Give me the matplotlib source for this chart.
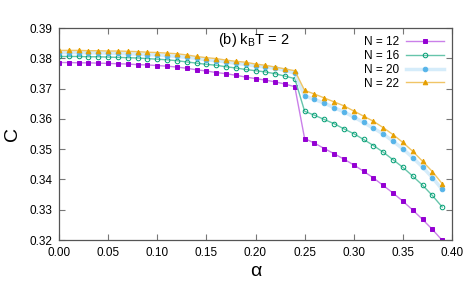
import numpy as np
import matplotlib
matplotlib.use("Agg")
import matplotlib.pyplot as plt
from matplotlib.colors import to_rgb

plt.rcParams["font.family"] = ["Liberation Sans", "DejaVu Sans"]

alpha = np.round(np.arange(0, 0.40, 0.01), 2)

c_n12 = [0.3786, 0.3786, 0.3785, 0.3785, 0.3784, 0.3783, 0.3782, 0.3781, 0.3779, 0.3778,
         0.3776, 0.3774, 0.3771, 0.3767, 0.3762, 0.3758, 0.3753, 0.3749, 0.3744, 0.3738,
         0.3733, 0.3728, 0.3722, 0.3715, 0.3706,
         0.3535, 0.3520, 0.3502, 0.3485, 0.3467, 0.3448, 0.3427, 0.3405, 0.3380, 0.3355,
         0.3328, 0.3299, 0.3268, 0.3235, 0.3199]
c_n16 = [0.3806, 0.3806, 0.3806, 0.3805, 0.3805, 0.3804, 0.3803, 0.3802, 0.3801, 0.3799,
         0.3797, 0.3795, 0.3792, 0.3788, 0.3784, 0.3780, 0.3777, 0.3772, 0.3768, 0.3763,
         0.3759, 0.3755, 0.3749, 0.3741, 0.3733,
         0.3625, 0.3612, 0.3598, 0.3584, 0.3567, 0.3551, 0.3532, 0.3512, 0.3490, 0.3465,
         0.3440, 0.3411, 0.3381, 0.3347, 0.3309]
c_n20 = [0.3819, 0.3819, 0.3819, 0.3818, 0.3818, 0.3817, 0.3816, 0.3815, 0.3814, 0.3812,
         0.3811, 0.3809, 0.3806, 0.3803, 0.3800, 0.3795, 0.3792, 0.3788, 0.3783, 0.3780,
         0.3775, 0.3771, 0.3767, 0.3760, 0.3751,
         0.3676, 0.3664, 0.3652, 0.3637, 0.3623, 0.3606, 0.3588, 0.3569, 0.3550, 0.3526,
         0.3501, 0.3472, 0.3441, 0.3406, 0.3367]
c_n22 = [0.3826, 0.3826, 0.3826, 0.3825, 0.3825, 0.3824, 0.3824, 0.3823, 0.3822, 0.3820,
         0.3819, 0.3817, 0.3815, 0.3811, 0.3806, 0.3802, 0.3799, 0.3794, 0.3790, 0.3787,
         0.3781, 0.3777, 0.3771, 0.3765, 0.3759,
         0.3694, 0.3682, 0.3669, 0.3656, 0.3643, 0.3626, 0.3609, 0.3592, 0.3571, 0.3548,
         0.3522, 0.3493, 0.3460, 0.3426, 0.3386]

series = [
    ("N = 12", c_n12, "#9400d3", "s", True, 1.0, 0.5),
    ("N = 16", c_n16, "#009e73", "o", False, 1.0, 0.6),
    ("N = 20", c_n20, "#56b4e9", "o", True, 2.5, 0.25),
    ("N = 22", c_n22, "#e69f00", "^", True, 1.0, 0.6),
]


def lighten(col, amount):
    r = np.array(to_rgb(col))
    return tuple(1 - amount * (1 - r))


fig = plt.figure(figsize=(4.74, 2.85), dpi=100)
ax = fig.add_axes([59 / 474, 1 - 240 / 285, (452 - 59) / 474, (240 - 28) / 285])

for label, vals, col, mk, filled, lw, la in series:
    ms = {"s": 3.0, "o": 3.3, "^": 3.3}[mk]
    ax.plot(alpha, vals, color=lighten(col, la), lw=lw, marker=mk, ms=ms,
            mfc=col if filled else "none", mec=col, mew=0.7, label=label)

ax.set_xlim(0, 0.40)
ax.set_ylim(0.32, 0.39)
ax.set_xticks(np.arange(0, 0.401, 0.05))
ax.set_yticks(np.arange(0.32, 0.3901, 0.01))
ax.set_xticklabels([f"{v:.2f}" for v in np.arange(0, 0.401, 0.05)])
ax.set_yticklabels([f"{v:.2f}" for v in np.arange(0.32, 0.3901, 0.01)])
ax.tick_params(direction="in", length=4, width=0.8, color="#777777",
               labelsize=8.5, top=True, right=True, pad=5)
for sp in ax.spines.values():
    sp.set_color("#555555")
    sp.set_linewidth(0.9)

ax.set_xlabel("α", fontsize=14, labelpad=3)
ax.set_ylabel("C", fontsize=14, labelpad=6)
ax.text(0.405, 0.945, "(b) k$_\\mathregular{B}$T = 2", transform=ax.transAxes,
        fontsize=10.5, va="center", ha="left")

ax.legend(loc="upper right", frameon=False, markerfirst=False, fontsize=8.5,
          handlelength=3.2, labelspacing=0.15, borderaxespad=0.3,
          handletextpad=0.6)

fig.savefig("out.png", dpi=100)
